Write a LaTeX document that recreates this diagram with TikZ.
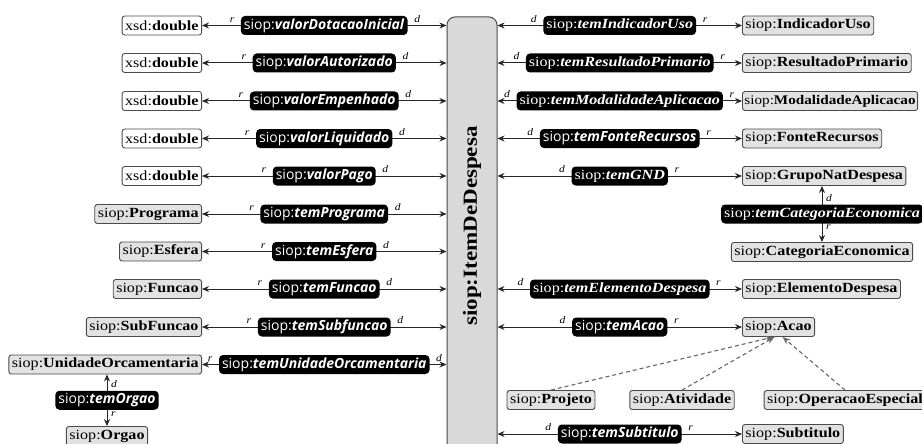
\documentclass[tikz,border=0pt]{standalone}
\usepackage{fontspec}
\setmainfont{Liberation Serif}[FakeStretch=1.15]
\setsansfont{Open Sans}
\usepackage{tikz}
\usetikzlibrary{positioning, arrows.meta}
\definecolor{boxGray}{HTML}{E2E2E2}
\definecolor{domGray}{HTML}{D9D9D9}
\definecolor{edgeGray}{HTML}{4A4A4A}

\tikzset{
  rngbox/.style={draw=edgeGray, fill=boxGray, rounded corners=2.5pt, line width=0.9pt,
    inner xsep=3pt, inner ysep=1pt, minimum height=19pt, font=\fontsize{14}{14}\selectfont},
  tightbox/.style={rngbox, inner xsep=2pt, font=\fontsize{13.2}{14}\selectfont},
  litbox/.style={rngbox, fill=white},
  propbox/.style={fill=black, text=white, rounded corners=4pt, inner xsep=3pt, inner ysep=1pt,
    minimum height=19pt},
  sansp/.style={font=\sffamily\fontsize{14}{14}\selectfont},
  serifp/.style={font=\rmfamily\fontsize{14}{14}\selectfont},
  lbl/.style={font=\rmfamily\itshape\fontsize{10}{10}\selectfont, inner sep=0pt},
  dombox/.style={draw=edgeGray, fill=domGray, rounded corners=8pt, line width=1pt,
    minimum width=50pt, minimum height=456pt, font=\bfseries\fontsize{20}{20}\selectfont},
  link/.style={{Stealth[length=7pt,width=6pt]}-{Stealth[length=7pt,width=6pt]}, line width=1pt, black!85},
  isa/.style={-{Stealth[length=8pt,width=6pt]}, dash pattern=on 4pt off 3pt, line width=1.1pt, black!60}
}

\begin{document}
\begin{tikzpicture}[x=1pt, y=-1pt]
  \useasboundingbox (0,0) rectangle (922,444);

  \node[dombox] (dom) at (472,245) {\rotatebox{90}{\hspace*{38pt}siop:ItemDeDespesa}};

  % left side, literal ranges
  \foreach \n/\y/\p in {1/25.5/valorDotacaoInicial, 2/63/valorAutorizado, 3/101/valorEmpenhado,
      4/138.5/valorLiquidado, 5/176/valorPago}{
    \node[litbox, anchor=east] (l\n) at (202,\y) {xsd:\textbf{double}};
    \draw[link] (l\n.east) -- node[propbox, sansp] (lp\n) {siop:\textbf{\textit{\p}}} (l\n.east -| dom.west);
    \node[lbl, above left=3pt and 6pt of lp\n.west] (lr\n) {r};
    \node[lbl, above right=3pt and 6pt of lp\n.east] (ld\n) {d};
  }

  % left side, class ranges
  \foreach \n/\y/\c/\p in {6/214/Programa/temPrograma, 7/251.5/Esfera/temEsfera, 8/289/Funcao/temFuncao,
      9/327/SubFuncao/temSubfuncao, 10/364.5/UnidadeOrcamentaria/temUnidadeOrcamentaria}{
    \node[rngbox, anchor=east] (l\n) at (202,\y) {siop:\textbf{\c}};
    \draw[link] (l\n.east) -- node[propbox, sansp] (lp\n) {siop:\textbf{\textit{\p}}} (l\n.east -| dom.west);
    \node[lbl, above left=3pt and 6pt of lp\n.west] (lr\n) {r};
    \node[lbl, above right=3pt and 6pt of lp\n.east] (ld\n) {d};
  }

  % orgao below unidade
  \node[rngbox] (org) at (107,436) {siop:\textbf{Orgao}};
  \draw[link] (l10.south -| org.north) -- node[propbox, sansp] (op) {siop:\textbf{\textit{temOrgao}}} (org.north);
  \node[lbl, above right=2pt and 4pt of op.north] (od) {d};
  \node[lbl, below right=1pt and 4pt of op.south] (or) {r};

  % right side
  \foreach \n/\y/\c/\p/\f/\k in {1/25.5/IndicadorUso/temIndicadorUso/serifp/rngbox,
      2/63/ResultadoPrimario/temResultadoPrimario/serifp/rngbox,
      3/101/ModalidadeAplicacao/temModalidadeAplicacao/serifp/tightbox,
      4/138.5/FonteRecursos/temFonteRecursos/sansp/rngbox,
      5/176/GrupoNatDespesa/temGND/serifp/rngbox,
      6/289/ElementoDespesa/temElementoDespesa/serifp/rngbox,
      7/327/Acao/temAcao/sansp/rngbox,
      8/434/Subtitulo/temSubtitulo/sansp/rngbox}{
    \node[\k, anchor=west] (c\n) at (742,\y) {siop:\textbf{\c}};
    \draw[link] (dom.east |- c\n.west) -- node[propbox, \f] (cp\n) {siop:\textbf{\textit{\p}}} (c\n.west);
    \node[lbl, above left=3pt and 6pt of cp\n.west] (cd\n) {d};
    \node[lbl, above right=3pt and 6pt of cp\n.east] (cr\n) {r};
  }

  % categoria economica under GND
  \node[rngbox] (cce) at (822,252) {siop:\textbf{CategoriaEconomica}};
  \draw[link] (c5.south -| cce.north) -- node[propbox, serifp] (tce) {siop:\textbf{\textit{temCategoriaEconomica}}} (cce.north);
  \node[lbl, above right=2pt and 4pt of tce.north] (tced) {d};
  \node[lbl, below right=1pt and 4pt of tce.south] (tcer) {r};

  % subclasses of acao
  \node[rngbox] (prj) at (551,400) {siop:\textbf{Projeto}};
  \node[rngbox] (atv) at (682,400) {siop:\textbf{Atividade}};
  \node[rngbox] (ope) at (845,400) {siop:\textbf{OperacaoEspecial}};
  \foreach \s/\dx in {prj/-5, atv/-4, ope/4}
    \draw[isa] (\s.north) -- ([xshift=\dx pt]c7.south);
\end{tikzpicture}
\end{document}
